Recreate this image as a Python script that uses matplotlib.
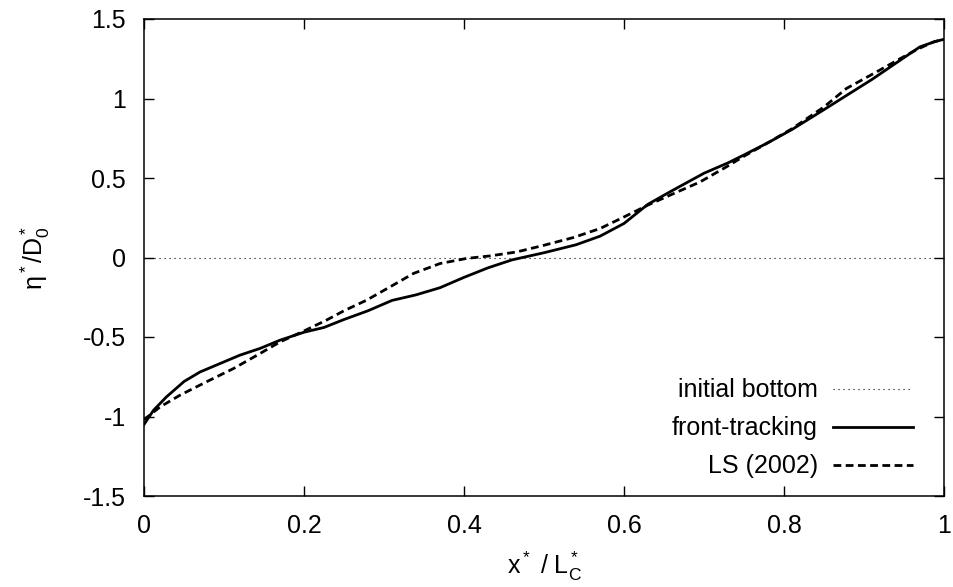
import matplotlib
matplotlib.use("Agg")
import matplotlib.pyplot as plt

plt.rcParams['font.family'] = ['Liberation Sans', 'DejaVu Sans']
plt.rcParams['mathtext.fontset'] = 'custom'
plt.rcParams['mathtext.rm'] = 'Liberation Sans'
plt.rcParams['mathtext.it'] = 'Liberation Sans'

# front-tracking
ft_x = [0.0, 0.012, 0.028, 0.05, 0.07, 0.095, 0.12, 0.145, 0.17, 0.2, 0.225, 0.25,
        0.28, 0.31, 0.34, 0.37, 0.4, 0.43, 0.46, 0.5, 0.54, 0.57, 0.6, 0.63, 0.66,
        0.7, 0.73, 0.75, 0.78, 0.81, 0.85, 0.88, 0.91, 0.945, 0.97, 0.99, 1.0]
ft_y = [-1.05, -0.96, -0.877, -0.78, -0.72, -0.667, -0.614, -0.572, -0.52, -0.47, -0.44, -0.39,
        -0.335, -0.27, -0.235, -0.19, -0.125, -0.065, -0.015, 0.03, 0.08, 0.134, 0.214, 0.335, 0.42,
        0.53, 0.595, 0.645, 0.722, 0.805, 0.93, 1.025, 1.12, 1.24, 1.325, 1.36, 1.372]

# LS (2002)
ls_x = [0.0, 0.02, 0.045, 0.078, 0.112, 0.145, 0.17, 0.2, 0.228, 0.25, 0.278, 0.3075,
        0.337, 0.37, 0.403, 0.4325, 0.466, 0.5, 0.537, 0.57, 0.6, 0.63, 0.662, 0.695,
        0.728, 0.75, 0.78, 0.81, 0.85, 0.878, 0.912, 0.945, 0.966, 0.987, 1.0]
ls_y = [-1.02, -0.94, -0.866, -0.782, -0.698, -0.604, -0.531, -0.462, -0.394, -0.335, -0.269, -0.185,
        -0.10, -0.038, -0.006, 0.01, 0.035, 0.077, 0.126, 0.182, 0.255, 0.33, 0.402, 0.475,
        0.57, 0.637, 0.722, 0.81, 0.947, 1.063, 1.157, 1.25, 1.308, 1.356, 1.372]

init_x = [0.0, 1.0]
init_y = [0.0, 0.0]

x_ticks = [0, 0.2, 0.4, 0.6, 0.8, 1]
x_ticklabels = ['0', '0.2', '0.4', '0.6', '0.8', '1']
y_ticks = [-1.5, -1, -0.5, 0, 0.5, 1, 1.5]
y_ticklabels = ['-1.5', '-1', '-0.5', '0', '0.5', '1', '1.5']

FS = 18

fig = plt.figure(figsize=(9.54, 5.87), dpi=100)
ax = fig.add_axes([144/954, 1-496/587, 800/954, 477/587])

ax.plot(init_x, init_y, color='black', lw=0.8, dashes=(1, 3.5), label='initial bottom')
ax.plot(ft_x, ft_y, color='black', lw=2.0, label='front-tracking')
ax.plot(ls_x, ls_y, color='black', lw=2.0, dashes=(2.8, 1.6), label='LS (2002)')

ax.set_xlim(0, 1)
ax.set_ylim(-1.5, 1.5)
ax.set_xticks(x_ticks)
ax.set_xticklabels(x_ticklabels)
ax.set_yticks(y_ticks)
ax.set_yticklabels(y_ticklabels)
ax.tick_params(direction='in', length=7.5, width=1.0, top=True, right=True,
               labelsize=FS)
ax.tick_params(axis='y', pad=13)
ax.tick_params(axis='x', pad=13)
for s in ax.spines.values():
    s.set_linewidth(1.1)

ax.set_xlabel(r'$\mathrm{x^*\ /\ L^*_C}$', fontsize=FS, labelpad=8)
ax.set_ylabel(r'$\mathrm{η^*/D^*_0}$', fontsize=FS, labelpad=22)

leg = ax.legend(loc='lower right', bbox_to_anchor=(0.989, -0.01), frameon=False,
                markerfirst=False, fontsize=FS, handlelength=3.2,
                handletextpad=0.6, labelspacing=0.56)

fig.savefig('out.png', dpi=100)
